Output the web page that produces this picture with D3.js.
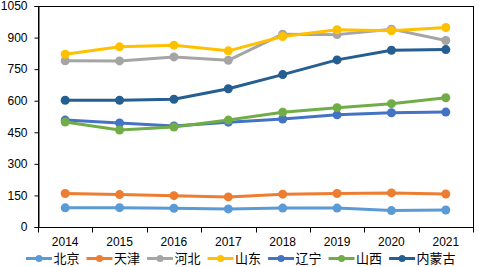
<!DOCTYPE html>
<html>
<head>
<meta charset="utf-8">
<script src="https://cdn.jsdelivr.net/npm/d3@7"></script>
<style>
  body { margin: 0; background: #fff; }
  svg { display: block; }
</style>
</head>
<body>
<svg id="chart"></svg>
<script>
const years = ["2014", "2015", "2016", "2017", "2018", "2019", "2020", "2021"];
const yTicks = [0, 150, 300, 450, 600, 750, 900, 1050];

const regions = ["北京", "天津", "河北", "山东", "辽宁", "山西", "内蒙古"];
const colors = ["#5B9BD5", "#ED7D31", "#A5A5A5", "#FFC000", "#4472C4", "#70AD47", "#255E91"];

const beijing = [91, 92, 89, 86, 90, 90, 78, 81];
const tianjin = [159, 154, 149, 143, 156, 159, 162, 157];
const hebei = [790, 789, 808, 792, 916, 914, 940, 886];
const shandong = [821, 856, 864, 837, 905, 937, 932, 948];
const liaoning = [508, 494, 480, 498, 513, 533, 543, 546];
const shanxi = [499, 461, 475, 508, 545, 567, 586, 614];
const neimenggu = [602, 602, 607, 657, 724, 794, 840, 843];

const seriesValues = [beijing, tianjin, hebei, shandong, liaoning, shanxi, neimenggu];

const width = 479;
const height = 267;
const margin = { top: 6, right: 6, bottom: 40, left: 38 };
const visWidth = width - margin.left - margin.right;
const visHeight = height - margin.top - margin.bottom;

const svg = d3.select("#chart").attr("width", width).attr("height", height);
const g = svg.append("g").attr("transform", `translate(${margin.left},${margin.top})`);

const x = d3.scaleBand().domain(years).range([0, visWidth]);
const y = d3.scaleLinear().domain([0, 1050]).range([visHeight, 0]);

const numFont = "'Liberation Sans', Arial, sans-serif";

// frame
g.append("rect")
  .attr("x", 0.5)
  .attr("y", 0.5)
  .attr("width", visWidth)
  .attr("height", visHeight)
  .attr("fill", "none")
  .attr("stroke", "#000")
  .attr("stroke-width", 1);

// y axis
g.append("g")
  .attr("transform", "translate(0.5,0)")
  .call(d3.axisLeft(y).tickValues(yTicks).tickFormat(d3.format("d")).tickSize(4).tickPadding(7))
  .call((g) => g.select(".domain").attr("stroke", "#000"))
  .call((g) => g.selectAll("text").attr("font-family", numFont).attr("font-size", 12).attr("fill", "#000"));

// x axis, ticks between categories
const xAxisGroup = g.append("g").attr("transform", `translate(0,${visHeight + 0.5})`);
xAxisGroup.append("line")
  .attr("x1", 0).attr("x2", visWidth)
  .attr("stroke", "#000");
xAxisGroup.selectAll("line.tick")
  .data(years.concat(["end"]))
  .join("line")
  .attr("class", "tick")
  .attr("x1", (d, i) => Math.round(i * x.step()) + 0.5)
  .attr("x2", (d, i) => Math.round(i * x.step()) + 0.5)
  .attr("y1", 0)
  .attr("y2", 5)
  .attr("stroke", "#000");
xAxisGroup.selectAll("text")
  .data(years)
  .join("text")
  .attr("x", (d) => x(d) + x.bandwidth() / 2)
  .attr("y", 18.5)
  .attr("text-anchor", "middle")
  .attr("font-family", numFont)
  .attr("font-size", 12)
  .attr("fill", "#000")
  .text((d) => d);

// lines
const line = d3.line()
  .x((d, i) => x(years[i]) + x.bandwidth() / 2)
  .y((d) => y(d));

seriesValues.forEach((vals, k) => {
  g.append("path")
    .datum(vals)
    .attr("fill", "none")
    .attr("stroke", colors[k])
    .attr("stroke-width", 3)
    .attr("stroke-linejoin", "round")
    .attr("d", line);
  g.append("g")
    .selectAll("circle")
    .data(vals)
    .join("circle")
    .attr("cx", (d, i) => x(years[i]) + x.bandwidth() / 2)
    .attr("cy", (d) => y(d))
    .attr("r", 4.5)
    .attr("fill", colors[k]);
});

// legend
const legend = svg.append("g").attr("transform", "translate(26,258.5)");
let lx = 0;
regions.forEach((name, k) => {
  const item = legend.append("g").attr("transform", `translate(${lx},0)`);
  item.append("line")
    .attr("x1", 0).attr("x2", 26)
    .attr("stroke", colors[k])
    .attr("stroke-width", 3);
  item.append("circle")
    .attr("cx", 13)
    .attr("r", 3.5)
    .attr("fill", colors[k]);
  const t = item.append("text")
    .attr("x", 27.5)
    .attr("y", 4.5)
    .attr("font-family", "'Noto Sans CJK SC', sans-serif")
    .attr("font-size", 13)
    .attr("fill", "#000")
    .text(name);
  lx += 27.5 + t.node().getComputedTextLength() + 7;
});
</script>
</body>
</html>
